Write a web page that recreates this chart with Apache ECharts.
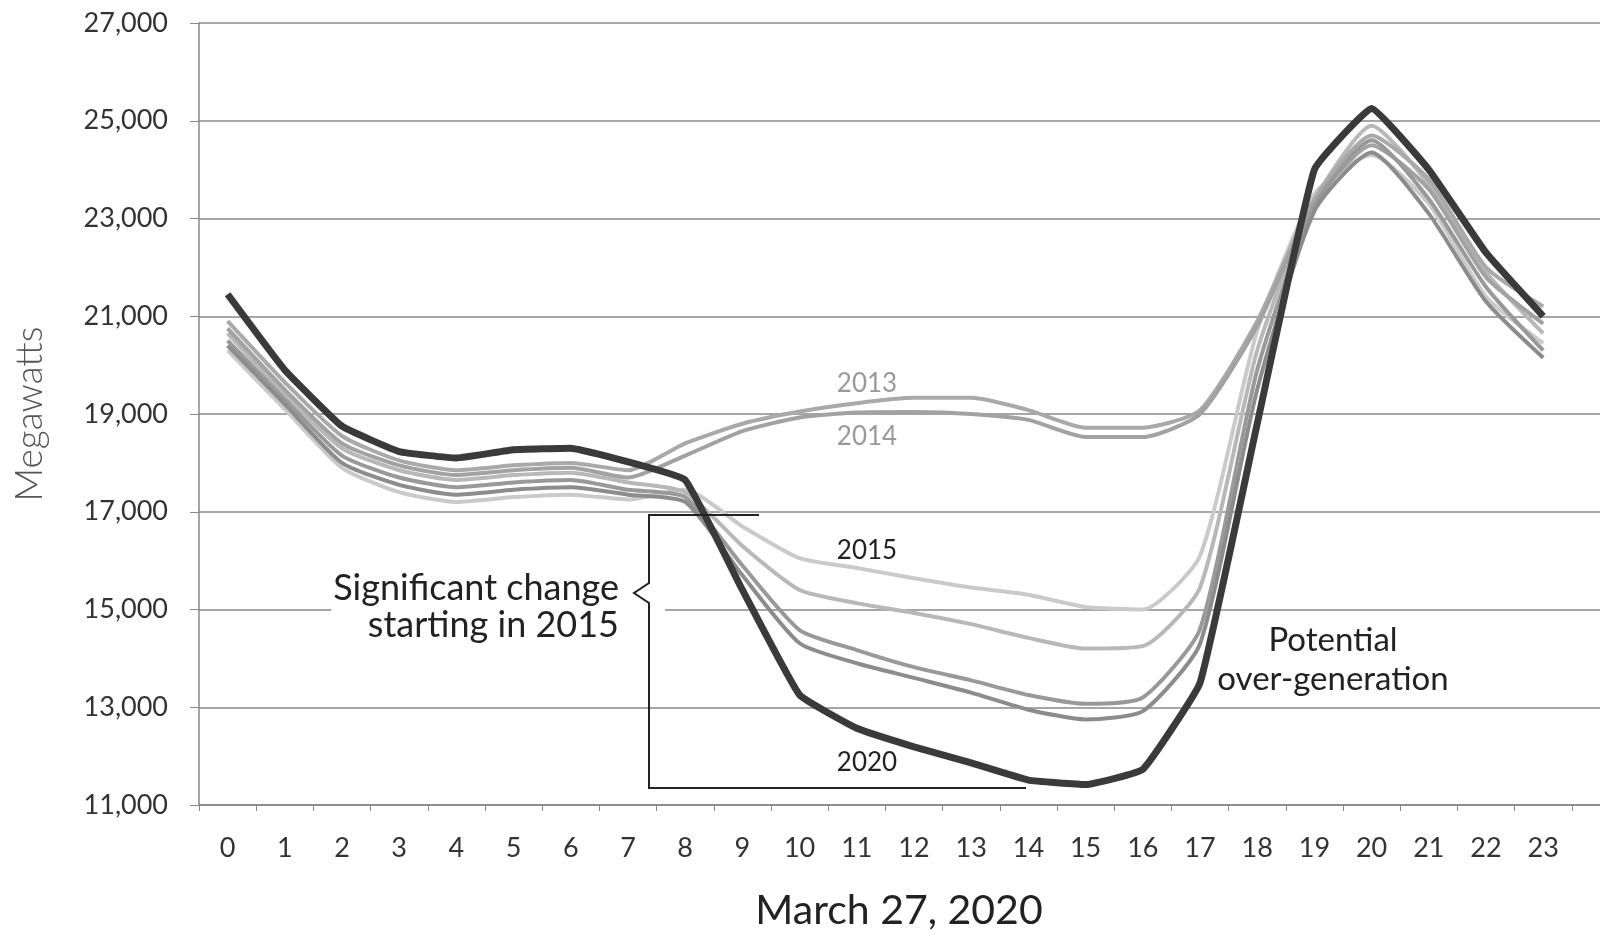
<!DOCTYPE html>
<html>
<head>
<meta charset="utf-8">
<title>Duck curve - March 27, 2020</title>
<script src="https://cdn.jsdelivr.net/npm/echarts@6/dist/echarts.min.js"></script>
<style>
  html, body { margin: 0; padding: 0; background: #fff; }
  #main { width: 1600px; height: 935px; }
</style>
</head>
<body>
<div id="main"></div>
<script>
// hours of the day (one spare empty slot so the grid runs off the right edge like the original)
var hours = ['0','1','2','3','4','5','6','7','8','9','10','11','12','13','14','15','16','17','18','19','20','21','22','23'];
var yTickMin = 11000, yTickMax = 27000, yTickStep = 2000;

// net load, megawatts
var load2013 = [20900,19650,18550,18050,17850,17950,18000,17850,18400,18800,19050,19220,19330,19330,19080,18720,18720,19080,20900,23400,24700,23800,22000,21200];
var load2014 = [20750,19500,18400,17950,17750,17850,17900,17700,18150,18650,18930,19030,19040,19000,18880,18530,18530,19000,20800,23300,24500,23600,21800,20850];
var load2015 = [20300,19100,17900,17400,17200,17300,17350,17250,17450,16700,16050,15850,15640,15450,15300,15050,15000,16100,20700,23500,24300,23300,21400,20450];
var load2016 = [20650,19400,18300,17850,17650,17750,17800,17600,17400,16300,15400,15130,14930,14700,14420,14200,14250,15450,20300,23350,24900,23700,21900,20650];
var load2017 = [20500,19300,18150,17700,17500,17600,17650,17450,17300,15900,14580,14170,13820,13550,13250,13070,13200,14600,19900,23250,24600,23400,21600,20300];
var load2018 = [20400,19200,18000,17550,17350,17450,17500,17350,17200,15700,14310,13900,13600,13300,12950,12750,12920,14300,19500,23150,24350,23100,21300,20150];
var load2020 = [21450,19900,18750,18230,18100,18270,18300,18020,17650,15400,13250,12570,12190,11860,11510,11420,11730,13500,18800,24000,25250,24000,22300,21000];

var FONT = 'Lato';

function grayLine(name, data, color) {
  return {
    name: name,
    type: 'line',
    data: data,
    symbol: 'none',
    smooth: 0.2,
    lineStyle: { color: color, width: 4 },
    z: 3
  };
}

var option = {
  animation: false,
  backgroundColor: '#fff',
  // 25 slots of ~57px; the last one falls past the right edge
  grid: { left: 199, top: 23, bottom: 130, width: 1430, outerBoundsMode: 'none' },
  xAxis: {
    type: 'category',
    data: hours.concat(['']),
    boundaryGap: true,
    name: 'March 27, 2020',
    nameLocation: 'middle',
    nameGap: 85,
    nameTextStyle: { fontFamily: FONT, fontSize: 41, color: '#222', padding: [0, 30, 0, 0] },
    axisLine: { lineStyle: { color: '#888', width: 1.5 } },
    axisTick: { show: true, length: 6, lineStyle: { color: '#888' } },
    axisLabel: { interval: 0, margin: 30, fontFamily: FONT, fontSize: 27, color: '#333' },
    splitLine: { show: false }
  },
  yAxis: {
    type: 'value',
    min: yTickMin,
    max: yTickMax,
    interval: yTickStep,
    name: 'Megawatts',
    nameLocation: 'middle',
    nameRotate: 90,
    nameGap: 150,
    nameTextStyle: { fontFamily: FONT, fontSize: 37, fontWeight: 300, color: '#555' },
    axisLine: { show: true, lineStyle: { color: '#888', width: 1.5 } },
    axisTick: { show: true, length: 9, lineStyle: { color: '#888' } },
    axisLabel: {
      margin: 31,
      fontFamily: FONT,
      fontSize: 27,
      color: '#333',
      formatter: function (v) { return v.toLocaleString('en-US'); }
    },
    splitLine: { lineStyle: { color: '#888', width: 1.5 } }
  },
  series: [
    grayLine('2015', load2015, '#cacaca'),
    grayLine('2016', load2016, '#b8b8b8'),
    grayLine('2013', load2013, '#a9a9a9'),
    grayLine('2014', load2014, '#a2a2a2'),
    grayLine('2017', load2017, '#999999'),
    grayLine('2018', load2018, '#8c8c8c'),
    {
      name: '2020',
      type: 'line',
      data: load2020,
      symbol: 'none',
      smooth: 0.1,
      lineStyle: { color: '#3a3a3a', width: 7 },
      z: 4
    }
  ],
  graphic: [
    // year labels
    { type: 'text', x: 867, y: 384, z: 10, style: { text: '2013', fontFamily: FONT, fontSize: 26, fill: '#999', align: 'center', verticalAlign: 'middle' } },
    { type: 'text', x: 867, y: 437, z: 10, style: { text: '2014', fontFamily: FONT, fontSize: 26, fill: '#999', align: 'center', verticalAlign: 'middle' } },
    { type: 'text', x: 867, y: 551, z: 10, style: { text: '2015', fontFamily: FONT, fontSize: 26, fill: '#222', align: 'center', verticalAlign: 'middle' } },
    { type: 'text', x: 867, y: 763, z: 10, style: { text: '2020', fontFamily: FONT, fontSize: 26, fill: '#222', align: 'center', verticalAlign: 'middle' } },
    // left annotation, white box hides the 15,000 gridline behind it
    {
      type: 'text', x: 665, y: 607, z: 10,
      style: {
        text: 'Significant change\nstarting in 2015',
        fontFamily: FONT, fontSize: 36, lineHeight: 37, fill: '#222',
        align: 'right', verticalAlign: 'middle',
        backgroundColor: '#fff', padding: [0, 46, 0, 2]
      }
    },
    // bracket
    {
      type: 'polyline', z: 11,
      shape: { points: [[759, 515], [649, 515], [649, 583], [634, 593], [649, 603], [649, 788], [1026, 788]] },
      style: { stroke: '#222', lineWidth: 2, fill: null }
    },
    {
      type: 'text', x: 1333, y: 660, z: 10,
      style: {
        text: 'Potential\nover-generation',
        fontFamily: FONT, fontSize: 33, lineHeight: 39, fill: '#222',
        align: 'center', verticalAlign: 'middle'
      }
    }
  ]
};

var chart = echarts.init(document.getElementById('main'));
chart.setOption(option);
</script>
</body>
</html>
